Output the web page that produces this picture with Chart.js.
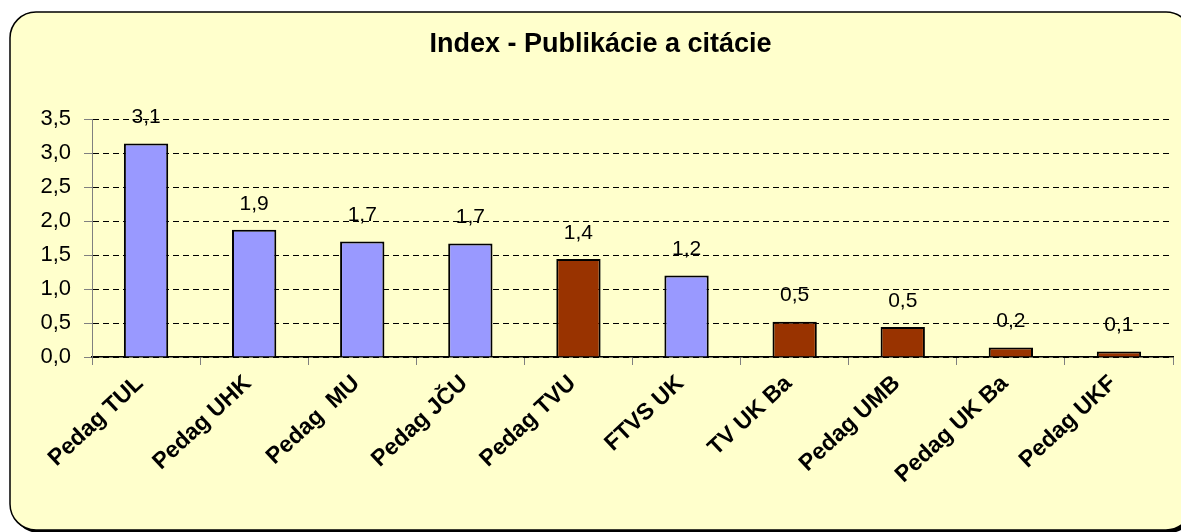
<!DOCTYPE html>
<html>
<head>
<meta charset="utf-8">
<script src="https://cdn.jsdelivr.net/npm/chart.js@4/dist/chart.umd.min.js"></script>
<style>
  html, body { margin: 0; padding: 0; background: #fff; }
  #wrap { width: 1181px; height: 532px; position: relative; }
</style>
</head>
<body>
<div id="wrap"><canvas id="graf"></canvas></div>
<script>
// udaje z grafu
const fakulty = ['Pedag TUL', 'Pedag UHK', 'Pedag  MU', 'Pedag JČU', 'Pedag TVU', 'FTVS UK', 'TV UK Ba', 'Pedag UMB', 'Pedag UK Ba', 'Pedag UKF'];
const indexHodnoty = [3.14, 1.87, 1.70, 1.67, 1.44, 1.20, 0.52, 0.44, 0.14, 0.08];
const popisky = ['3,1', '1,9', '1,7', '1,7', '1,4', '1,2', '0,5', '0,5', '0,2', '0,1'];
const krajina = ['CZ', 'CZ', 'CZ', 'CZ', 'SK', 'CZ', 'SK', 'SK', 'SK', 'SK'];
const osY = [0, 0.5, 1, 1.5, 2, 2.5, 3, 3.5];

const farby = { CZ: '#9999FF', SK: '#993300' };

// pozadie s oblymi rohmi
const pozadie = {
  id: 'pozadie',
  beforeDraw(chart) {
    const ctx = chart.ctx;
    const x = 10, y = 12, w = 1182, h = 518, r = 26;
    ctx.save();
    ctx.fillStyle = '#000';
    ctx.beginPath();
    ctx.roundRect(x + 3, y + 3, w, h, r);
    ctx.fill();
    ctx.fillStyle = '#FFFFCC';
    ctx.strokeStyle = '#000';
    ctx.lineWidth = 1.5;
    ctx.beginPath();
    ctx.roundRect(x, y, w, h, r);
    ctx.fill();
    ctx.stroke();
    ctx.restore();
  }
};

// hodnoty nad stlpcami
const hodnotyNad = {
  id: 'hodnotyNad',
  afterDatasetsDraw(chart) {
    const ctx = chart.ctx;
    const meta = chart.getDatasetMeta(0);
    ctx.save();
    ctx.font = '21px "Liberation Sans", Arial, sans-serif';
    ctx.fillStyle = '#000';
    ctx.textAlign = 'center';
    ctx.textBaseline = 'middle';
    meta.data.forEach((bar, i) => {
      ctx.fillText(popisky[i], bar.x, bar.y - 26);
    });
    ctx.restore();
  }
};

new Chart(document.getElementById('graf'), {
  type: 'bar',
  data: {
    labels: fakulty,
    datasets: [{
      data: indexHodnoty,
      backgroundColor: krajina.map(k => farby[k]),
      borderColor: '#000',
      borderWidth: 2,
      categoryPercentage: 1,
      barPercentage: 0.41
    }]
  },
  options: {
    responsive: true,
    maintainAspectRatio: false,
    animation: false,
    layout: { padding: { left: 28, right: 8, top: 0, bottom: 0 } },
    plugins: {
      legend: { display: false },
      tooltip: { enabled: false },
      title: {
        display: true,
        text: 'Index - Publikácie a citácie',
        color: '#000',
        font: { family: '"Liberation Sans", Arial, sans-serif', size: 27, weight: 'bold', lineHeight: 1.2 },
        padding: { top: 28, bottom: 58.6 }
      }
    },
    scales: {
      x: {
        afterFit(scale) { scale.height = 175; },
        grid: {
          offset: true,
          drawOnChartArea: false,
          drawTicks: true,
          tickLength: 8,
          color: '#808080'
        },
        border: { display: true, color: '#000', width: 1.5 },
        ticks: {
          color: '#000',
          minRotation: 43,
          maxRotation: 43,
          autoSkip: false,
          padding: 5,
          labelOffset: -6,
          font: { family: '"Liberation Sans", Arial, sans-serif', size: 23, weight: 'bold' }
        }
      },
      y: {
        min: 0,
        max: 3.5,
        afterFit(scale) { scale.width = 64; },
        afterBuildTicks(scale) { scale.ticks = osY.map(v => ({ value: v })); },
        grid: {
          color: '#000',
          lineWidth: 1,
          tickLength: 8,
          tickColor: '#808080',
          tickBorderDash: []
        },
        border: { display: true, color: '#808080', width: 1, dash: [6, 4] },
        ticks: {
          color: '#000',
          padding: 13,
          font: { family: '"Liberation Sans", Arial, sans-serif', size: 22 },
          callback: v => v.toFixed(1).replace('.', ',')
        }
      }
    }
  },
  plugins: [pozadie, hodnotyNad]
});
</script>
</body>
</html>
